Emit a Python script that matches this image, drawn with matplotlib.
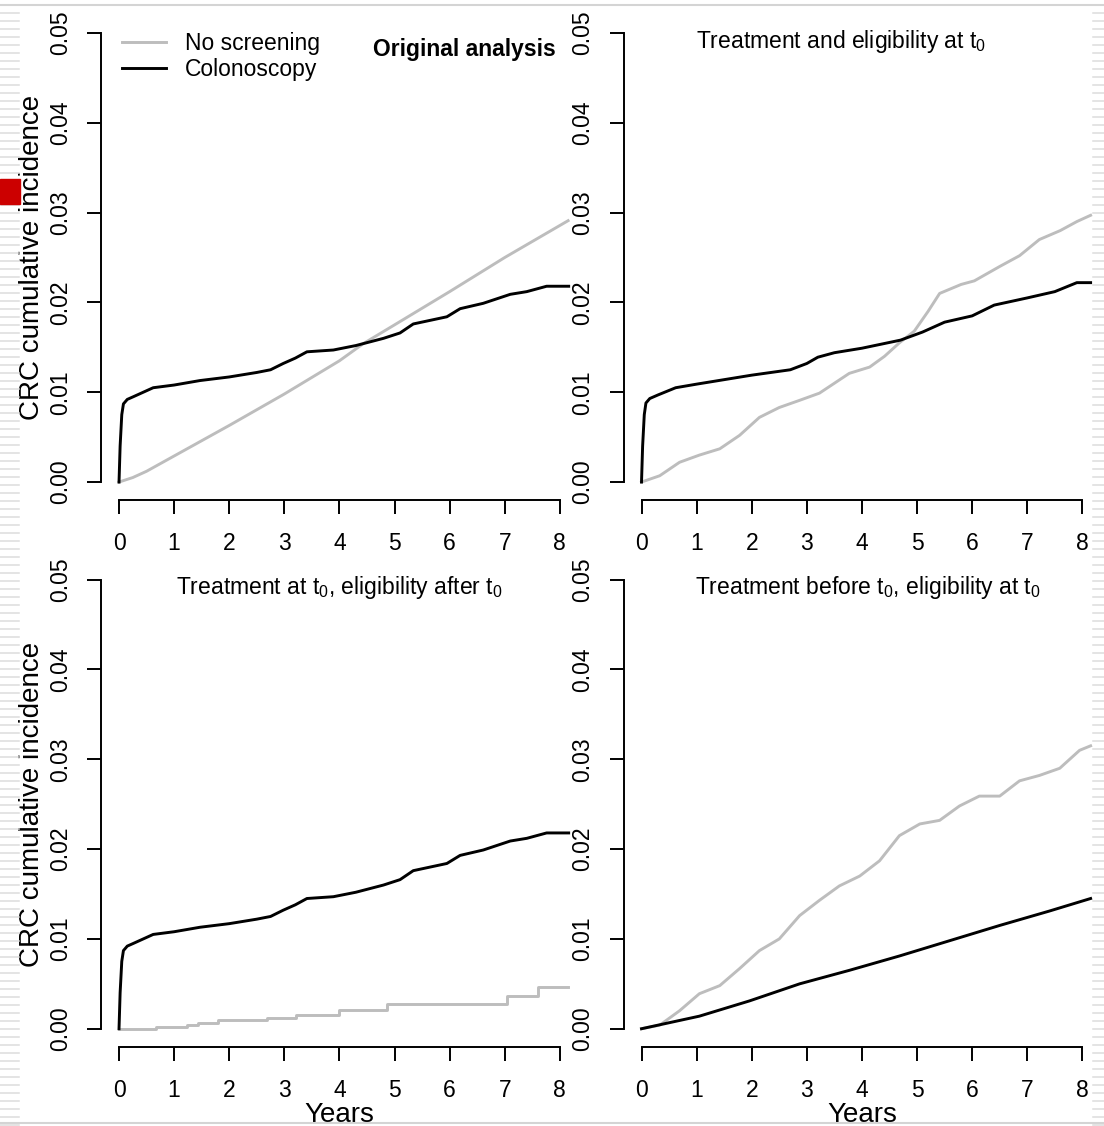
import matplotlib
matplotlib.use("Agg")
import matplotlib.pyplot as plt
import matplotlib.transforms as mtransforms
from matplotlib.lines import Line2D
from matplotlib.patches import Rectangle

plt.rcParams['font.family'] = ['Liberation Sans', 'DejaVu Sans']
plt.rcParams['mathtext.fontset'] = 'custom'
plt.rcParams['mathtext.rm'] = 'Liberation Sans'
plt.rcParams['mathtext.it'] = 'Liberation Sans:italic'

GREY = '#bdbdbd'

# --- data (years, cumulative incidence) ---
# panel 1: original analysis
orig_none_x = [0, 0.25, 0.5, 1, 1.5, 2, 3, 4, 4.43, 5, 6, 7, 8.15]
orig_none_y = [0, 0.0005, 0.0012, 0.0029, 0.0046, 0.0063, 0.0098, 0.0135, 0.0154,
               0.0175, 0.0212, 0.0250, 0.0291]
orig_colo_x = [0, 0.02, 0.05, 0.08, 0.15, 0.26, 0.62, 1.0, 1.47, 2.0, 2.5, 2.75, 2.98,
               3.2, 3.41, 3.89, 4.3, 4.8, 5.1, 5.34, 5.95, 6.19, 6.61, 7.1, 7.4, 7.76, 8.16]
orig_colo_y = [0, 0.004, 0.0075, 0.0087, 0.0092, 0.0095, 0.0105, 0.0108, 0.0113, 0.0117,
               0.0122, 0.0125, 0.0132, 0.0138, 0.0145, 0.0147, 0.0152, 0.0160, 0.0166,
               0.0176, 0.0184, 0.0193, 0.0199, 0.0209, 0.0212, 0.0218, 0.0218]

# panel 2: treatment and eligibility at t0
te_none_x = [0, 0.33, 0.69, 1.05, 1.42, 1.78, 2.14, 2.5, 2.87, 3.23, 3.5, 3.77, 4.14,
             4.41, 4.68, 4.95, 5.2, 5.41, 5.8, 6.04, 6.5, 6.86, 7.22, 7.6, 7.9, 8.15]
te_none_y = [0, 0.0007, 0.0022, 0.0030, 0.0037, 0.0052, 0.0072, 0.0083, 0.0091, 0.0099,
             0.0110, 0.0121, 0.0128, 0.0140, 0.0155, 0.0168, 0.0190, 0.0210, 0.0220,
             0.0224, 0.0240, 0.0252, 0.0270, 0.0280, 0.0290, 0.0297]
te_colo_x = [0, 0.02, 0.05, 0.08, 0.15, 0.3, 0.62, 1.0, 1.5, 2.0, 2.7, 3.0, 3.2, 3.5,
             4.0, 4.7, 5.1, 5.5, 6.0, 6.4, 7.0, 7.5, 7.9, 8.15]
te_colo_y = [0, 0.004, 0.0075, 0.0088, 0.0093, 0.0097, 0.0105, 0.0109, 0.0114, 0.0119,
             0.0125, 0.0132, 0.0139, 0.0144, 0.0149, 0.0158, 0.0167, 0.0178, 0.0185,
             0.0197, 0.0205, 0.0212, 0.0222, 0.0222]

# panel 3: treatment at t0, eligibility after t0
ta_none_x = [0, 0.68, 1.23, 1.44, 1.79, 2.69, 3.21, 4.0, 4.87, 7.05, 7.6, 8.15]
ta_none_y = [0, 0.0002, 0.0004, 0.0006, 0.0010, 0.0012, 0.0015, 0.0021, 0.0028,
             0.0036, 0.0046, 0.0046]
ta_colo_x = orig_colo_x
ta_colo_y = orig_colo_y

# panel 4: treatment before t0, eligibility at t0
tb_none_x = [0, 0.33, 0.69, 1.05, 1.42, 1.78, 2.14, 2.5, 2.87, 3.23, 3.59, 3.96, 4.32,
             4.68, 5.05, 5.41, 5.77, 6.13, 6.5, 6.86, 7.22, 7.59, 7.95, 8.15]
tb_none_y = [0, 0.0004, 0.0020, 0.0039, 0.0048, 0.0067, 0.0087, 0.0100, 0.0126, 0.0143,
             0.0159, 0.0170, 0.0187, 0.0215, 0.0228, 0.0232, 0.0248, 0.0259, 0.0259,
             0.0276, 0.0282, 0.0290, 0.0310, 0.0315]
tb_colo_x = [0, 1.05, 1.96, 2.87, 3.77, 4.68, 5.59, 6.5, 7.4, 8.15]
tb_colo_y = [0, 0.0014, 0.0031, 0.0050, 0.0065, 0.0081, 0.0098, 0.0115, 0.0131, 0.0145]

series_labels = ['No screening', 'Colonoscopy']
x_ticks = list(range(0, 9))
y_ticks = [0.0, 0.01, 0.02, 0.03, 0.04, 0.05]

W, H = 1104, 1126
fig = plt.figure(figsize=(W / 100, H / 100), dpi=100)

# slide decorations around the picture
for yy in range(13, H, 8):
    fig.add_artist(Line2D([0, 19 / W], [1 - yy / H] * 2, color='#dcdcdc', lw=1.1))
    fig.add_artist(Line2D([1093 / W, 1], [1 - yy / H] * 2, color='#dcdcdc', lw=1.1))
fig.add_artist(Line2D([0, 1], [1 - 5 / H] * 2, color='#d4d4d4', lw=1.5))
fig.add_artist(Line2D([0, 1], [1 - 1123 / H] * 2, color='#d4d4d4', lw=1.5))
fig.add_artist(Rectangle((0, 1 - 204 / H), 20 / W, 25 / H, color='#cc0000', zorder=5))

lefts = [101, 623.5]
bottoms = [500, 1046.7]
aw, ah = 486.4, 485

panels = [
    (0, 0, orig_none_x, orig_none_y, orig_colo_x, orig_colo_y),
    (1, 0, te_none_x, te_none_y, te_colo_x, te_colo_y),
    (0, 1, ta_none_x, ta_none_y, ta_colo_x, ta_colo_y),
    (1, 1, tb_none_x, tb_none_y, tb_colo_x, tb_colo_y),
]
axes = []
for col, row, nx, ny, cx, cy in panels:
    ax = fig.add_axes([lefts[col] / W, 1 - bottoms[row] / H, aw / W, ah / H])
    ax.set_facecolor('none')
    step = 'steps-post' if (col, row) == (0, 1) else 'default'
    ax.plot(nx, ny, color=GREY, lw=2.1, drawstyle=step, label=series_labels[0])
    ax.plot(cx, cy, color='black', lw=2.1, label=series_labels[1])
    ax.set_xlim(-0.327, 8.5)
    ax.set_ylim(-0.002, 0.052)
    ax.spines['top'].set_visible(False)
    ax.spines['right'].set_visible(False)
    ax.spines['left'].set_bounds(0, 0.05)
    ax.spines['bottom'].set_bounds(0, 8)
    for s in ('left', 'bottom'):
        ax.spines[s].set_linewidth(1.4)
    ax.set_xticks(x_ticks)
    ax.set_xticklabels([str(t) for t in x_ticks])
    ax.set_yticks(y_ticks)
    ax.set_yticklabels([f"{t:.2f}" for t in y_ticks])
    ax.tick_params(direction='out', length=10, width=1.4, labelsize=16.5, pad=11)
    ax.tick_params(axis='x', pad=13)
    plt.setp(ax.get_yticklabels(), rotation=90, va='center')
    axes.append(ax)

ax1, ax2, ax3, ax4 = axes

# panel titles
ax1.text(7.93, 0.0482, 'Original analysis', fontsize=16.5, fontweight='bold',
         ha='right', va='center')
ax2.text(3.63, 0.0491, r'Treatment and eligibility at $\mathrm{t}_0$', fontsize=16.5,
         ha='center', va='center')
ax3.text(4.0, 0.0491, r'Treatment at $\mathrm{t}_0$, eligibility after $\mathrm{t}_0$',
         fontsize=16.5, ha='center', va='center')
ax4.text(4.1, 0.0491, r'Treatment before $\mathrm{t}_0$, eligibility at $\mathrm{t}_0$',
         fontsize=16.5, ha='center', va='center')

ax1.legend(loc='upper left', bbox_to_anchor=(122 / W, 1 - 32 / H),
           bbox_transform=fig.transFigure, frameon=False, fontsize=16.5,
           borderaxespad=0, borderpad=0, handlelength=1.9, handletextpad=0.85,
           labelspacing=0.15)

for ax in (ax1, ax3):
    tr = mtransforms.blended_transform_factory(fig.transFigure, ax.transData)
    ax.text(32 / W, 0.025, 'CRC cumulative incidence', transform=tr, rotation=90,
            fontsize=20, ha='center', va='center')
for ax in (ax3, ax4):
    tr = mtransforms.blended_transform_factory(ax.transData, fig.transFigure)
    ax.text(4.0, 1 - 1115 / H, 'Years', transform=tr, fontsize=20,
            ha='center', va='center')

fig.savefig('out.png', dpi=100)
